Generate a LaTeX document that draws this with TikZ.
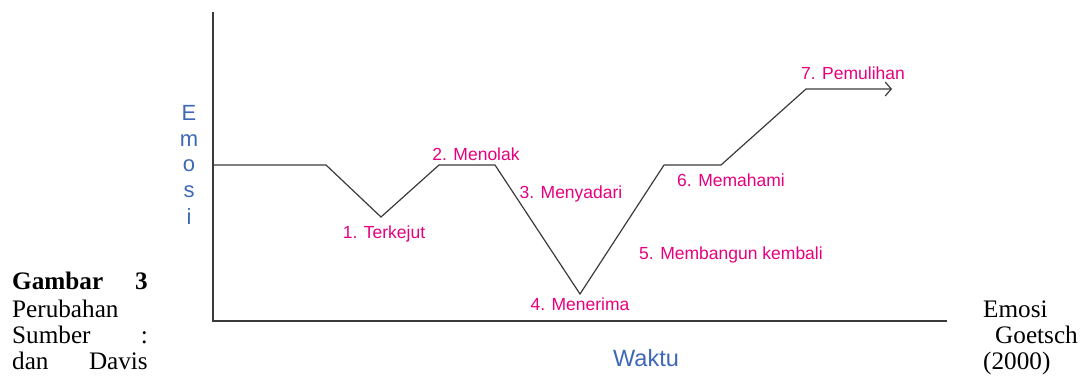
\documentclass[tikz,border=0pt]{standalone}
\usepackage{fontspec}
\setmainfont{Liberation Serif}
\newfontfamily\arialf{Liberation Sans}
\usetikzlibrary{arrows.meta}
\definecolor{lblmag}{HTML}{E6007E}
\definecolor{axblue}{HTML}{3D68B5}
\definecolor{lngray}{HTML}{3A3A3A}
\tikzset{
  lbl/.style={text=lblmag, font=\arialf\fontsize{17.5}{20}\selectfont, inner sep=0pt, anchor=base},
  axlbl/.style={text=axblue, inner sep=0pt, anchor=base},
  captxt/.style={font=\fontsize{25.2}{27}\selectfont, inner sep=0pt, anchor=base west},
  axline/.style={draw=lngray, line width=1.4pt},
  curve/.style={draw=lngray, line width=1.2pt, line join=miter}
}
\begin{document}
\begin{tikzpicture}[x=1pt,y=-1pt]
\useasboundingbox (0,0) rectangle (1084,375);
% axes
\coordinate (ytop) at (213,12);
\coordinate (org) at (213,321);
\coordinate (xend) at (947,321);
\draw[axline] (ytop) -- (org) -- (xend);
% curve points
\coordinate (p0) at (213,165);
\coordinate (p1) at (326,165);
\coordinate (p2) at (381,217);
\coordinate (p3) at (439,165);
\coordinate (p4) at (495,165);
\coordinate (p5) at (580,294);
\coordinate (p6) at (664,165);
\coordinate (p7) at (721,165);
\coordinate (p8) at (806,89);
\coordinate (p9) at (892,89);
\draw[curve, -{Straight Barb[length=6pt,width=14pt,line width=1.2pt]}] (p0) -- (p1) -- (p2) -- (p3) -- (p4) -- (p5) -- (p6) -- (p7) -- (p8) -- (p9);
% labels
\node[lbl] (l1) at (384,238) {1. Terkejut};
\node[lbl] (l2) at (476,160) {2. Menolak};
\node[lbl] (l3) at (571,198) {3. Menyadari};
\node[lbl] (l4) at (580,310) {4. Menerima};
\node[lbl] (l5) at (731,259) {5. Membangun kembali};
\node[lbl] (l6) at (731,186) {6. Memahami};
\node[lbl] (l7) at (853,79) {7. Pemulihan};
% axis titles
\begin{scope}[font=\arialf\fontsize{22}{24}\selectfont]
\node[axlbl] (e1) at (189,120) {E};
\node[axlbl] (e2) at (189,146) {m};
\node[axlbl] (e3) at (189,171) {o};
\node[axlbl] (e4) at (189,197) {s};
\node[axlbl] (e5) at (189,224) {i};
\end{scope}
\node[axlbl, font=\arialf\fontsize{23.5}{26}\selectfont] (wk) at (646,366) {Waktu};
% caption
\node[captxt, font=\bfseries\fontsize{25.2}{27}\selectfont] (g1) at (12,289) {Gambar};
\node[captxt, font=\bfseries\fontsize{25.2}{27}\selectfont, anchor=base east] (g2) at (148,289) {3};
\node[captxt] (c1) at (12,317) {Perubahan};
\node[captxt] (c2) at (12,343) {Sumber};
\node[captxt, anchor=base east] (c2b) at (148,343) {:};
\node[captxt] (c3) at (12,369) {dan};
\node[captxt, anchor=base east] (c3b) at (148,369) {Davis};
\node[captxt] (r1) at (983,317) {Emosi};
\node[captxt, anchor=base east] (r2) at (1078,343) {Goetsch};
\node[captxt] (r3) at (983,369) {(2000)};
\end{tikzpicture}
\end{document}
